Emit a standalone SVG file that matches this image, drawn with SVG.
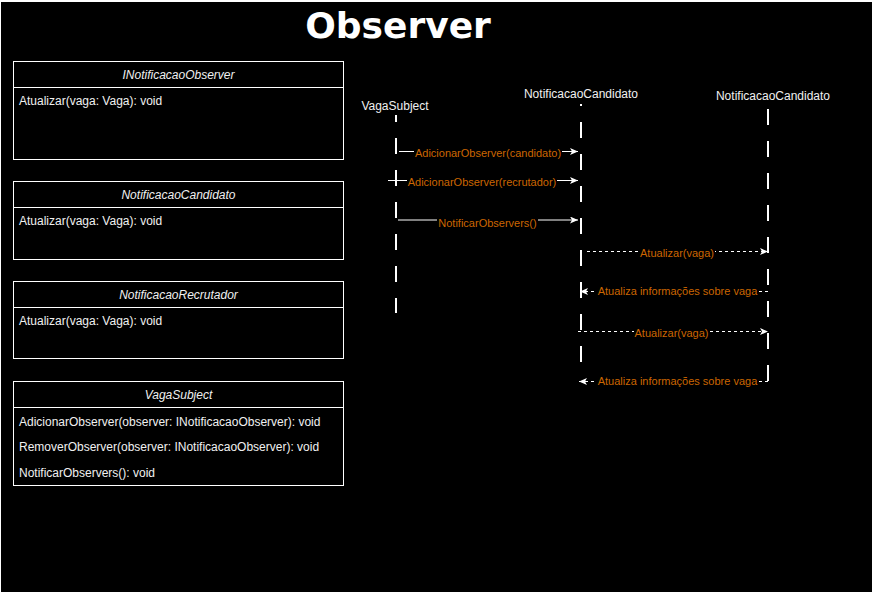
<svg xmlns="http://www.w3.org/2000/svg" width="874" height="592" viewBox="0 0 874 592">
<style>
.box{fill:#000;stroke:#fff;stroke-width:1}
.hdr{font-family:"Liberation Sans",Arial,sans-serif;font-size:12px;font-style:italic;fill:#f0f0f0;text-anchor:middle}
.mem{font-family:"Liberation Sans",Arial,sans-serif;font-size:12px;fill:#f0f0f0}
.pl{font-family:"Liberation Sans",Arial,sans-serif;font-size:12px;fill:#f0f0f0;text-anchor:middle}
.life{stroke:#fff;stroke-width:2;stroke-dasharray:16 16;fill:none}
.msg{stroke:#fff;stroke-width:1;fill:none;marker-end:url(#arr)}
.dash{stroke-dasharray:3 3}
.lbl{font-family:"Liberation Sans",Arial,sans-serif;font-size:11px;fill:#CC6600;text-anchor:middle}
.lbg{fill:#000}
</style>
<defs>
<marker id="arr" viewBox="0 0 8 7" refX="8" refY="3.5" markerWidth="8" markerHeight="7" markerUnits="userSpaceOnUse" orient="auto">
<path d="M0,0 L8,3.5 L0,7 L2,3.5 Z" fill="#fff"/>
</marker>
</defs>
<rect x="0" y="0" width="874" height="592" fill="#fff"/>
<rect x="1" y="2" width="871" height="590" fill="#000"/>

<g id="title">
<text x="398" y="38" font-family="DejaVu Sans,sans-serif" font-weight="bold" font-size="36" fill="#fff" text-anchor="middle">Observer</text>
</g>

<g id="INotificacaoObserver">
<rect class="box" x="13.5" y="61.5" width="330" height="98"/>
<line x1="13.5" y1="87.5" x2="343.5" y2="87.5" stroke="#fff"/>
<text class="hdr" x="178.5" y="79">INotificacaoObserver</text>
<text class="mem" x="19" y="105">Atualizar(vaga: Vaga): void</text>
</g>

<g id="NotificacaoCandidato-class">
<rect class="box" x="13.5" y="181.5" width="330" height="78"/>
<line x1="13.5" y1="207.5" x2="343.5" y2="207.5" stroke="#fff"/>
<text class="hdr" x="178.5" y="199">NotificacaoCandidato</text>
<text class="mem" x="19" y="225">Atualizar(vaga: Vaga): void</text>
</g>

<g id="NotificacaoRecrutador">
<rect class="box" x="13.5" y="281.5" width="330" height="77"/>
<line x1="13.5" y1="307.5" x2="343.5" y2="307.5" stroke="#fff"/>
<text class="hdr" x="178.5" y="299">NotificacaoRecrutador</text>
<text class="mem" x="19" y="325">Atualizar(vaga: Vaga): void</text>
</g>

<g id="VagaSubject-class">
<rect class="box" x="13.5" y="381.5" width="330" height="104"/>
<line x1="13.5" y1="407.5" x2="343.5" y2="407.5" stroke="#fff"/>
<text class="hdr" x="178.5" y="399">VagaSubject</text>
<text class="mem" x="19" y="426">AdicionarObserver(observer: INotificacaoObserver): void</text>
<text class="mem" x="19" y="451">RemoverObserver(observer: INotificacaoObserver): void</text>
<text class="mem" x="19" y="477">NotificarObservers(): void</text>
</g>

<g id="VagaSubject-lifeline">
<text class="pl" x="395" y="110">VagaSubject</text>
<line class="life" x1="396" y1="115" x2="396" y2="313" stroke-dashoffset="9"/>
</g>

<g id="NotificacaoCandidato-lifeline-1">
<text class="pl" x="581" y="98">NotificacaoCandidato</text>
<line class="life" x1="581" y1="104" x2="581" y2="362" stroke-dashoffset="14"/>
</g>

<g id="NotificacaoCandidato-lifeline-2">
<text class="pl" x="773" y="100">NotificacaoCandidato</text>
<line class="life" x1="768" y1="109" x2="768" y2="382"/>
</g>

<g id="connectors">
<line class="msg" x1="399" y1="151.5" x2="578" y2="151.5"/>
<rect class="lbg" x="414" y="145" width="148" height="14"/>
<text class="lbl" x="488" y="157">AdicionarObserver(candidato)</text>

<line class="msg" x1="388" y1="180.5" x2="578" y2="180.5"/>
<rect class="lbg" x="407" y="174" width="150" height="14"/>
<text class="lbl" x="482" y="186">AdicionarObserver(recrutador)</text>

<line class="msg" x1="398" y1="220" x2="578" y2="220"/>
<rect class="lbg" x="437" y="215" width="101" height="14"/>
<text class="lbl" x="487.5" y="226.5">NotificarObservers()</text>

<line class="msg dash" x1="587" y1="251.5" x2="768" y2="251.5"/>
<rect class="lbg" x="640" y="246" width="75" height="14"/>
<text class="lbl" x="677" y="257">Atualizar(vaga)</text>

<line class="msg dash" x1="768" y1="291.5" x2="580" y2="291.5"/>
<rect class="lbg" x="597" y="285" width="161" height="14"/>
<text class="lbl" x="677.5" y="295">Atualiza informações sobre vaga</text>

<line class="msg dash" x1="578" y1="331.5" x2="768" y2="331.5"/>
<rect class="lbg" x="634" y="326" width="75" height="14"/>
<text class="lbl" x="671.5" y="337">Atualizar(vaga)</text>

<line class="msg dash" x1="768" y1="381.5" x2="579" y2="381.5"/>
<rect class="lbg" x="597" y="375" width="161" height="14"/>
<text class="lbl" x="677.5" y="385">Atualiza informações sobre vaga</text>
</g>
</svg>
